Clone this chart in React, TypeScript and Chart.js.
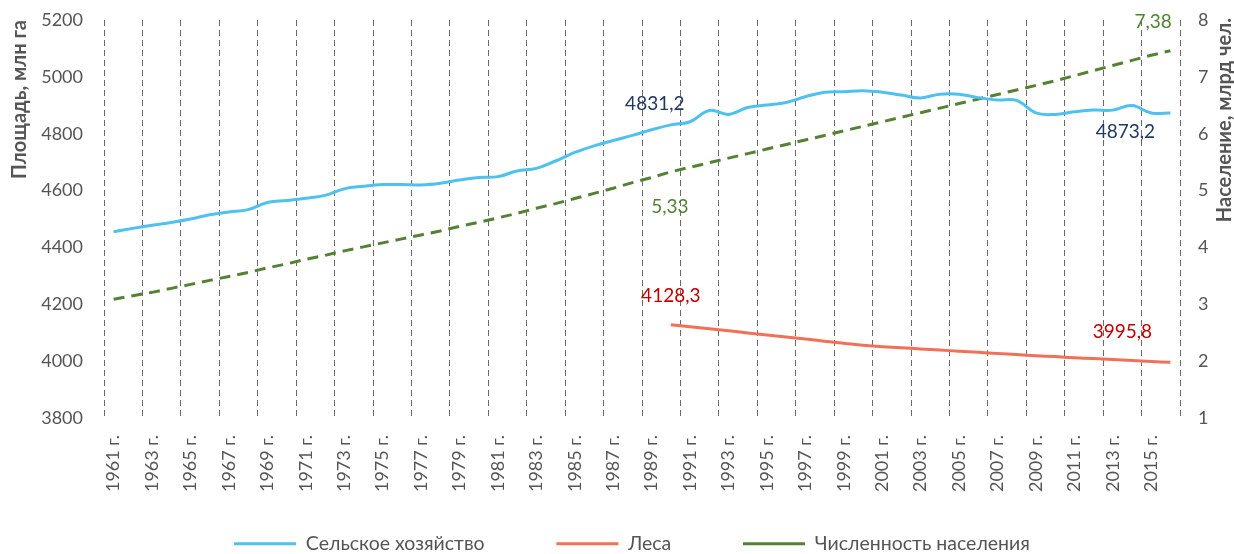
import React, { useEffect, useRef } from 'react';
import { Chart, registerables } from 'chart.js';

Chart.register(...registerables);

const categories = [
  '1961 г.', '1962 г.', '1963 г.', '1964 г.', '1965 г.', '1966 г.', '1967 г.', '1968 г.', '1969 г.', '1970 г.',
  '1971 г.', '1972 г.', '1973 г.', '1974 г.', '1975 г.', '1976 г.', '1977 г.', '1978 г.', '1979 г.', '1980 г.',
  '1981 г.', '1982 г.', '1983 г.', '1984 г.', '1985 г.', '1986 г.', '1987 г.', '1988 г.', '1989 г.', '1990 г.',
  '1991 г.', '1992 г.', '1993 г.', '1994 г.', '1995 г.', '1996 г.', '1997 г.', '1998 г.', '1999 г.', '2000 г.',
  '2001 г.', '2002 г.', '2003 г.', '2004 г.', '2005 г.', '2006 г.', '2007 г.', '2008 г.', '2009 г.', '2010 г.',
  '2011 г.', '2012 г.', '2013 г.', '2014 г.', '2015 г.', '2016 г.',
];

// Сельское хозяйство, млн га
const agriculture = [
  4455, 4467, 4478, 4488, 4500, 4515, 4525, 4533, 4558, 4565,
  4573, 4583, 4606, 4615, 4621, 4621, 4620, 4626, 4637, 4646,
  4649, 4669, 4678, 4704, 4734, 4757, 4776, 4794, 4814, 4831.2,
  4842, 4882, 4868, 4892, 4901, 4910, 4930, 4946, 4948, 4951,
  4946, 4936, 4926, 4939, 4939, 4927, 4919, 4917, 4873, 4868,
  4877, 4883, 4883, 4899, 4873, 4873.2,
];

// Леса, млн га
const forests = [
  null, null, null, null, null, null, null, null, null, null,
  null, null, null, null, null, null, null, null, null, null,
  null, null, null, null, null, null, null, null, null, 4128.3,
  4121, 4114, 4107, 4099, 4092, 4085, 4078, 4070, 4063, 4055.6,
  4051, 4047, 4043, 4039, 4035, 4031, 4027, 4023, 4019, 4016,
  4012, 4009, 4006, 4002, 3999, 3995.8,
];

// Численность населения, млрд чел.
const population = [
  3.09, 3.15, 3.21, 3.28, 3.35, 3.42, 3.49, 3.56, 3.64, 3.71,
  3.79, 3.86, 3.94, 4.01, 4.08, 4.15, 4.22, 4.29, 4.37, 4.44,
  4.52, 4.60, 4.69, 4.77, 4.86, 4.95, 5.04, 5.14, 5.23, 5.33,
  5.41, 5.49, 5.57, 5.65, 5.73, 5.81, 5.89, 5.97, 6.05, 6.13,
  6.21, 6.29, 6.37, 6.45, 6.53, 6.61, 6.69, 6.77, 6.85, 6.93,
  7.02, 7.11, 7.20, 7.29, 7.38, 7.46,
];

const seriesNames = ['Сельское хозяйство', 'Леса', 'Численность населения'];
const leftTitle = 'Площадь, млн га';
const rightTitle = 'Население, млрд чел.';

// value labels: dataset index, category, offset of label centre from the point, colour
const valueLabels = [
  { ds: 0, cat: '1990 г.', dx: -16, dy: -21, color: '#1F3864' },
  { ds: 0, cat: '2016 г.', dx: -45, dy: 19, color: '#1F3864' },
  { ds: 1, cat: '1990 г.', dx: 0, dy: -29, color: '#C00000' },
  { ds: 1, cat: '2016 г.', dx: -48, dy: -30, color: '#C00000' },
  { ds: 2, cat: '1990 г.', dx: -1, dy: 35, color: '#548235' },
  { ds: 2, cat: '2015 г.', dx: 2, dy: -33, color: '#548235' },
];

const FONT = 'Lato';
const TEXT = '#555555';

const labelsPlugin = {
  id: 'valueLabels',
  afterDatasetsDraw(chart: any) {
    const ctx = chart.ctx;
    ctx.save();
    ctx.font = `19px ${FONT}`;
    ctx.textAlign = 'center';
    ctx.textBaseline = 'middle';
    valueLabels.forEach((l) => {
      const meta = chart.getDatasetMeta(l.ds);
      const idx = categories.indexOf(l.cat);
      const pt = meta.data[idx];
      const v = chart.data.datasets[l.ds].data[idx];
      if (!pt || v == null) return;
      ctx.fillStyle = l.color;
      ctx.fillText(String(v).replace('.', ','), pt.x + l.dx, pt.y + l.dy);
    });
    ctx.restore();
  },
};

const titlesPlugin = {
  id: 'axisTitles',
  afterDraw(chart: any) {
    const ctx = chart.ctx;
    const top = chart.chartArea.top;
    ctx.save();
    ctx.font = `bold 20px ${FONT}`;
    ctx.fillStyle = TEXT;
    ctx.textBaseline = 'middle';
    ctx.textAlign = 'right';
    ctx.translate(20, top);
    ctx.rotate(-Math.PI / 2);
    ctx.fillText(leftTitle, 0, 0);
    ctx.restore();
    ctx.save();
    ctx.font = `bold 20px ${FONT}`;
    ctx.fillStyle = TEXT;
    ctx.textBaseline = 'middle';
    ctx.textAlign = 'right';
    ctx.translate(chart.chartArea.right + 45, top - 2);
    ctx.rotate(-Math.PI / 2);
    ctx.fillText(rightTitle, 0, 0);
    ctx.restore();
  },
};

export default function App() {
  const ref = useRef<HTMLCanvasElement | null>(null);

  useEffect(() => {
    if (!ref.current) return;
    Chart.defaults.font.family = FONT;
    const chart = new Chart(ref.current, {
      type: 'line',
      data: {
        labels: categories,
        datasets: [
          {
            label: seriesNames[0],
            data: agriculture,
            borderColor: '#4FC1EE',
            backgroundColor: '#4FC1EE',
            borderWidth: 3,
            pointRadius: 0,
            tension: 0.4,
            yAxisID: 'y',
          },
          {
            label: seriesNames[1],
            data: forests,
            borderColor: '#F07157',
            backgroundColor: '#F07157',
            borderWidth: 3,
            pointRadius: 0,
            tension: 0.4,
            yAxisID: 'y',
          },
          {
            label: seriesNames[2],
            data: population,
            borderColor: '#548235',
            backgroundColor: '#548235',
            borderWidth: 3,
            borderDash: [11, 7],
            pointRadius: 0,
            tension: 0,
            yAxisID: 'y1',
          },
        ],
      },
      options: {
        animation: false,
        responsive: true,
        maintainAspectRatio: false,
        layout: { padding: { left: 40, right: 10, top: 20, bottom: 0 } },
        scales: {
          x: {
            offset: true,
            grid: {
              offset: true,
              drawTicks: false,
              lineWidth: 1,
              color: (c: any) =>
                c.index === undefined || c.index % 2 === 0 ? '#6a6a6a' : 'rgba(0,0,0,0)',
            },
            border: { display: false, dash: [6, 4] },
            ticks: {
              autoSkip: false,
              minRotation: 90,
              maxRotation: 90,
              padding: 17,
              color: TEXT,
              font: { family: FONT, size: 18 },
              callback: function (this: any, val: any, idx: number) {
                return idx % 2 === 0 ? this.getLabelForValue(val) : '';
              },
            },
            afterFit: (s: any) => {
              s.height = 116;
              s.paddingLeft = 0;
              s.paddingRight = 0;
            },
          },
          y: {
            position: 'left',
            min: 3800,
            max: 5200,
            grid: { display: false, drawTicks: false },
            border: { display: false },
            ticks: {
              stepSize: 200,
              padding: 21,
              color: TEXT,
              font: { family: FONT, size: 18 },
              callback: (v: any) => String(v),
            },
            afterFit: (s: any) => {
              s.width = 64;
              s.paddingTop = 0;
              s.paddingBottom = 0;
            },
          },
          y1: {
            position: 'right',
            min: 1,
            max: 8,
            grid: { display: false, drawTicks: false },
            border: { display: false },
            ticks: {
              stepSize: 1,
              padding: 18,
              color: TEXT,
              font: { family: FONT, size: 18 },
              callback: (v: any) => String(v),
            },
            afterFit: (s: any) => {
              s.width = 44;
              s.paddingTop = 0;
              s.paddingBottom = 0;
            },
          },
        },
        plugins: {
          tooltip: { enabled: false },
          legend: {
            position: 'bottom',
            maxHeight: 20,
            labels: {
              usePointStyle: true,
              pointStyle: 'line',
              pointStyleWidth: 62,
              padding: 0,
              color: TEXT,
              font: { family: FONT, size: 19.5 },
              generateLabels: (ch: any) => {
                const base = (Chart.defaults.plugins.legend.labels as any).generateLabels(ch);
                const out: any[] = [];
                base.forEach((item: any, i: number) => {
                  if (i > 0) {
                    out.push({
                      text: '',
                      strokeStyle: 'rgba(0,0,0,0)',
                      fillStyle: 'rgba(0,0,0,0)',
                      lineWidth: 0,
                      hidden: false,
                      pointStyle: 'line',
                    });
                  }
                  out.push(item);
                });
                return out;
              },
            },
          },
        },
      },
      plugins: [labelsPlugin, titlesPlugin],
    });
    return () => chart.destroy();
  }, []);

  return (
    <div style={{ position: 'fixed', left: 0, top: 0, width: 1234, height: 554, background: '#fff' }}>
      <canvas ref={ref} />
    </div>
  );
}
